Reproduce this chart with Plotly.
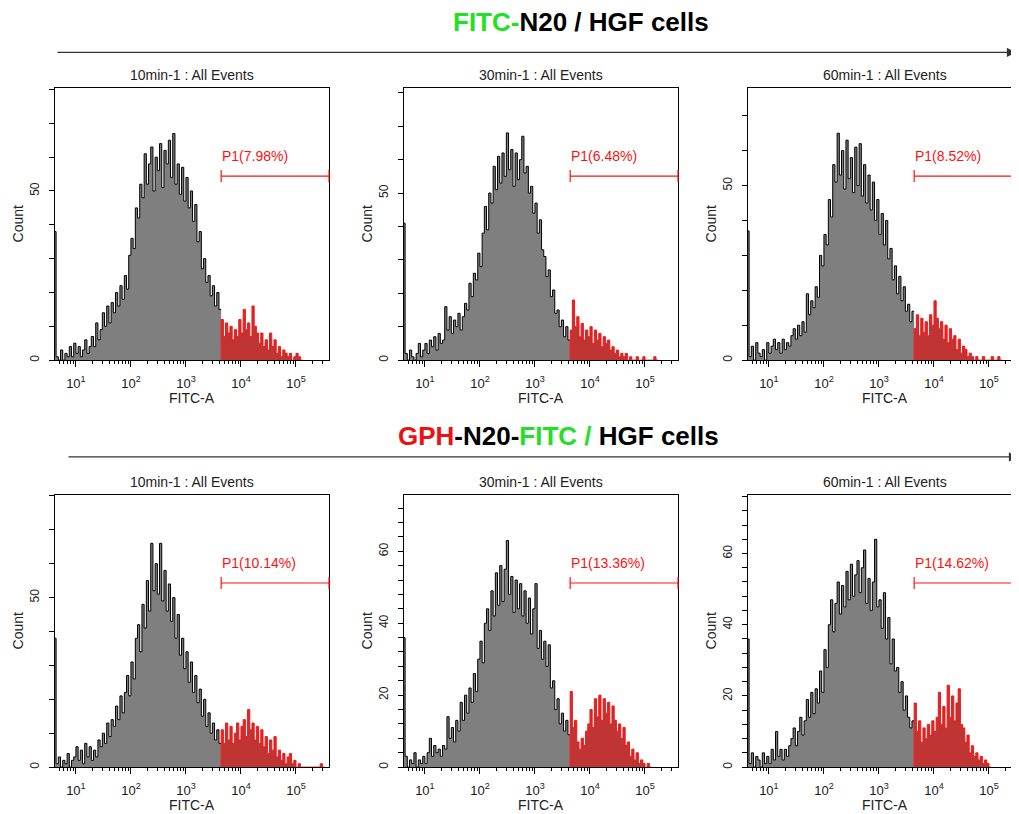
import plotly.graph_objects as go

W, H = 1019, 814
OFF = 8                       # page body margin of the browser
FW, FH = W - OFF, H - OFF     # figure size so that the figure fills the window

# ---------------- data ----------------
LOG_START = 0.60      # left edge of first histogram bin (log10 FITC-A)
BIN_W = 0.04          # bin width in decades
GATE_LOG = 3.64       # P1 gate start (log10 FITC-A); bins >= index 76 are gated
GATE_BIN = 76
X_LOG_MIN = 0.62

PANEL_TITLES = ["10min-1 : All Events", "30min-1 : All Events", "60min-1 : All Events",
                "10min-1 : All Events", "30min-1 : All Events", "60min-1 : All Events"]
GATE_LABELS = ["P1(7.98%)", "P1(6.48%)", "P1(8.52%)",
               "P1(10.14%)", "P1(13.36%)", "P1(14.62%)"]
Y_MAX = [80.5, 81.5, 78.0, 80.3, 75.7, 76.5]
Y_TICK_STEP = [10, 10, 10, 10, 4, 4]
Y_TICK_LABELED = [[0, 50], [0, 50], [0, 50], [0, 50], [0, 20, 40, 60], [0, 20, 40, 60]]
X_TICKS = [10, 100, 1000, 10000, 100000]
X_TICK_TEXT = ["10<sup>1</sup>", "10<sup>2</sup>", "10<sup>3</sup>", "10<sup>4</sup>", "10<sup>5</sup>"]
X_MINOR = [m * 10 ** e for e in range(0, 6) for m in range(2, 10) if 4.2 < m * 10 ** e < 4.2e5]

# FITC-N20 / HGF cells
counts_10min_n20 = [38, 1, 0, 3, 0, 2, 1, 4, 1, 5, 2, 4, 1, 3, 6, 2, 4,
                    7, 4, 11, 6, 9, 14, 10, 16, 11, 17, 14, 20, 16, 22, 18,
                    25, 21, 31, 36, 33, 45, 42, 52, 48, 61, 52, 58, 63, 50,
                    60, 56, 64, 51, 62, 58, 65, 54, 67, 52, 58, 49, 57, 47, 54,
                    45, 50, 41, 46, 35, 38, 27, 30, 23, 25, 19, 22, 16, 20, 15,
                    12, 7, 11, 8, 10, 6, 9, 7, 12, 8, 15, 9, 11, 7, 16, 10, 8,
                    5, 8, 4, 6, 3, 8, 4, 6, 2, 4, 1, 3, 2, 1, 2, 0, 1, 2, 1, 0]
counts_30min_n20 = [41, 2, 0, 3, 1, 0, 2, 5, 1, 3, 5, 2, 6, 4, 7, 3, 8, 5, 6, 16,
                    9, 13, 8, 12, 10, 14, 9, 13, 17, 15, 23, 19, 26, 24, 32, 28, 38,
                    46, 39, 50, 47, 58, 51, 61, 53, 62, 55, 68, 57, 63, 52, 62,
                    54, 60, 67, 56, 58, 50, 52, 44, 47, 38, 42, 33, 31, 25, 27,
                    19, 21, 14, 15, 10, 12, 7, 10, 6,
                    9, 18, 10, 13, 7, 11, 6, 9, 7, 10, 5, 9, 6, 8, 4, 7, 5, 6, 3,
                    4, 2, 3, 1, 2, 1, 2, 0, 1, 0, 0, 1, 0, 0, 1, 0, 0, 0, 0, 1, 0]
counts_60min_n20 = [37, 1, 4, 0, 5, 2, 1, 3, 0, 5, 2, 4, 6, 3, 5, 2, 6, 3, 5, 4, 7,
                    9, 6, 10, 7, 11, 8, 19, 13, 17, 15, 21, 18, 30, 27, 36, 33,
                    46, 41, 56, 51, 65, 53, 60, 49, 63, 52, 58, 48, 61, 50, 62,
                    47, 56, 45, 53, 43, 51, 40, 46, 36, 42, 33, 40, 29, 32, 23,
                    27, 19, 24, 17, 21, 14, 16, 11, 14,
                    9, 13, 7, 12, 8, 11, 7, 13, 10, 17, 12, 9, 11, 6, 10, 5, 9, 6,
                    7, 3, 6, 2, 4, 3, 1, 2, 1, 0, 1, 0, 0, 1, 0, 0, 0, 1, 0, 0, 1, 0]
# GPH-N20-FITC / HGF cells
counts_10min_gph = [38, 1, 3, 0, 2, 1, 4, 0, 2, 3, 6, 2, 5, 1, 7, 3, 6, 2,
                    5, 3, 8, 6, 10, 7, 13, 9, 14, 12, 18, 14, 21, 16, 22, 27, 21, 31,
                    26, 38, 42, 34, 48, 41, 55, 46, 66, 52, 60, 51, 66, 49, 58,
                    46, 54, 43, 50, 38, 45, 33, 38, 29, 34, 25, 31, 22, 27, 19,
                    23, 15, 20, 12, 16, 10, 13, 8, 11, 7,
                    11, 7, 13, 8, 12, 7, 10, 13, 8, 12, 14, 9, 17, 11, 13, 8, 12,
                    7, 11, 6, 9, 4, 8, 5, 9, 3, 5, 2, 4, 1, 3, 4, 1, 2,
                    0, 1, 0, 0, 0, 0, 0, 0, 0, 0, 0, 1, 0]
counts_30min_gph = [36, 3, 0, 2, 1, 4, 0, 2, 1, 3, 1, 4, 8, 3, 6, 4, 5, 3, 6, 5, 14,
                    8, 11, 7, 13, 10, 18, 13, 20, 15, 22, 18, 26, 21, 30, 35,
                    29, 40, 44, 38, 49, 42, 54, 45, 56, 46, 55, 63, 48, 53, 43,
                    52, 44, 51, 42, 49, 40, 47, 37, 44, 51, 33, 38, 30, 35, 28,
                    34, 22, 24, 16, 19, 12, 15, 10, 13, 9,
                    21, 11, 13, 7, 5, 8, 6, 10, 12, 16, 11, 19, 14, 20, 13, 19,
                    15, 18, 12, 17, 13, 10, 12, 8, 11, 6, 7, 3, 5, 2, 4, 1, 2, 1,
                    0, 1, 0]
counts_60min_gph = [36, 1, 4, 0, 3, 2, 0, 4, 1, 3, 1, 5, 2, 10, 3, 5, 2, 5, 3, 6,
                    8, 11, 6, 10, 14, 9, 13, 19, 14, 21, 15, 22, 18, 27, 21,
                    33, 28, 40, 47, 38, 46, 52, 43, 51, 45, 55, 47, 57, 48, 54,
                    58, 49, 56, 61, 46, 53, 44, 52, 64, 45, 47, 39, 49, 36, 42,
                    29, 36, 27, 28, 21, 24, 16, 20, 14, 11, 13,
                    18, 10, 13, 7, 11, 8, 12, 9, 13, 10, 14, 21, 12, 17, 11, 23,
                    14, 20, 13, 18, 22, 12, 11, 7, 9, 4, 6, 3, 4, 2, 3, 1, 2, 1, 0]

PANEL_COUNTS = [counts_10min_n20, counts_30min_n20, counts_60min_n20,
                counts_10min_gph, counts_30min_gph, counts_60min_gph]

# ---------------- layout geometry (window pixels) ----------------
COL_LEFT = [55, 404, 748]
COL_W = [274, 274, 271]
COL_CENTER = [192, 541, 885]
ROW_TOP = [88, 496]
PH = 273
DEC_PX = 55.02
FONT = "Liberation Sans"

GRAY_FILL = "#7f7f7f"
RED_LINE = "#ff1010"
RED_FILL = "rgb(192,52,52)"


def px(xp):
    return (xp - OFF) / FW


def py(yp):
    return 1 - (yp - OFF) / FH


def hist_xy(counts, i0, i1, start_zero):
    xs = [10 ** (LOG_START + BIN_W * k) for k in range(i0, i1 + 1)]
    ys = list(counts[i0:i1]) + [counts[i1 - 1]]
    if start_zero:
        xs = [xs[0]] + xs
        ys = [0] + ys
    return xs, ys


fig = go.Figure()
layout = {}
annotations = []
shapes = []

for idx in range(6):
    r, c = divmod(idx, 3)
    n = idx + 1
    xid = "x" if n == 1 else f"x{n}"
    yid = "y" if n == 1 else f"y{n}"
    xname = "xaxis" if n == 1 else f"xaxis{n}"
    yname = "yaxis" if n == 1 else f"yaxis{n}"
    left, width, top = COL_LEFT[c], COL_W[c], ROW_TOP[r]
    xspan = width / DEC_PX

    counts = PANEL_COUNTS[idx]
    gx, gy = hist_xy(counts, 0, GATE_BIN, False)
    fig.add_trace(go.Scatter(x=gx, y=gy, mode="lines", line=dict(shape="hv", color="black", width=1),
                             fill="tozeroy", fillcolor=GRAY_FILL, xaxis=xid, yaxis=yid,
                             hoverinfo="skip", showlegend=False))
    rx, ry = hist_xy(counts, GATE_BIN, len(counts), True)
    fig.add_trace(go.Scatter(x=rx, y=ry, mode="lines", line=dict(shape="hv", color=RED_LINE, width=1),
                             fill="tozeroy", fillcolor=RED_FILL, xaxis=xid, yaxis=yid,
                             hoverinfo="skip", showlegend=False))

    ytv = list(range(0, int(Y_MAX[idx]) + 1, Y_TICK_STEP[idx]))
    ytt = [str(v) if v in Y_TICK_LABELED[idx] else "" for v in ytv]

    layout[xname] = dict(domain=[px(left), min(1.0, px(left + width))], anchor=yid, type="log",
                         range=[X_LOG_MIN, X_LOG_MIN + xspan], showline=True, linecolor="black",
                         linewidth=1, mirror=True, ticks="outside", ticklen=6, tickwidth=1,
                         tickcolor="black", tickvals=X_TICKS, ticktext=X_TICK_TEXT,
                         ticklabelstandoff=5,
                         tickfont=dict(family=FONT, size=13, color="#1a1a1a"),
                         minor=dict(tickvals=X_MINOR, ticks="outside", ticklen=3, tickwidth=1,
                                    tickcolor="black", showgrid=False),
                         showgrid=False, zeroline=False, fixedrange=True)
    layout[yname] = dict(domain=[py(top + PH), py(top)], anchor=xid,
                         range=[0, Y_MAX[idx]], showline=True, linecolor="black", linewidth=1,
                         mirror=(c < 2), ticks="outside", ticklen=5, tickwidth=1, tickcolor="black",
                         tickvals=ytv, ticktext=ytt, tickangle=-90, ticklabelstandoff=5,
                         tickfont=dict(family=FONT, size=12, color="#1a1a1a"),
                         showgrid=False, zeroline=False, fixedrange=True)

    # gate bar
    gfrac = (GATE_LOG - X_LOG_MIN) / xspan
    bar_y = 0.676
    xdref = f"{xid} domain"
    ydref = f"{yid} domain"
    shapes.append(dict(type="line", xref=xdref, yref=ydref, x0=gfrac, x1=1.0, y0=bar_y, y1=bar_y,
                       line=dict(color=RED_LINE, width=1.2)))
    shapes.append(dict(type="line", xref=xdref, yref=ydref, x0=gfrac, x1=gfrac,
                       y0=bar_y - 0.022, y1=bar_y + 0.022, line=dict(color=RED_LINE, width=1.2)))
    if c < 2:
        shapes.append(dict(type="line", xref=xdref, yref=ydref, x0=1.0, x1=1.0,
                           y0=bar_y - 0.022, y1=bar_y + 0.022, line=dict(color=RED_LINE, width=1.2)))
    annotations.append(dict(xref=xdref, yref=ydref, x=gfrac - 0.006, y=0.751, xanchor="left",
                            yanchor="middle", text=GATE_LABELS[idx], showarrow=False,
                            font=dict(family=FONT, size=14, color=RED_LINE)))

    # panel title, axis titles
    annotations.append(dict(xref="paper", yref="paper", x=px(COL_CENTER[c]), y=py(top - 13),
                            text=PANEL_TITLES[idx], showarrow=False, xanchor="center", yanchor="middle",
                            font=dict(family=FONT, size=14, color="#222222")))
    annotations.append(dict(xref="paper", yref="paper", x=px(COL_CENTER[c]), y=py(top + PH + 38),
                            text="FITC-A", showarrow=False, xanchor="center", yanchor="middle",
                            font=dict(family=FONT, size=14, color="#222222")))
    annotations.append(dict(xref="paper", yref="paper", x=px(left - 37), y=py(top + 137),
                            text="Count", textangle=-90, showarrow=False, xanchor="center",
                            yanchor="middle", font=dict(family=FONT, size=14, color="#222222")))

# group titles
annotations.append(dict(xref="paper", yref="paper", x=px(581), y=py(22), showarrow=False,
                        xanchor="center", yanchor="middle",
                        text="<b><span style='color:#22e022'>FITC-</span>N20 / HGF cells</b>",
                        font=dict(family=FONT, size=26, color="black")))
annotations.append(dict(xref="paper", yref="paper", x=px(558), y=py(437), showarrow=False,
                        xanchor="center", yanchor="middle",
                        text="<b><span style='color:#ee1111'>GPH</span>-N20-"
                             "<span style='color:#22e022'>FITC /</span> HGF cells</b>",
                        font=dict(family=FONT, size=26, color="black")))
# time arrows
annotations.append(dict(xref="paper", yref="paper", x=px(1016), y=py(52.5), text="",
                        showarrow=True, ax=56 - 1016, ay=0, arrowhead=2, arrowsize=1.4,
                        arrowwidth=1.3, arrowcolor="#333333"))
annotations.append(dict(xref="paper", yref="paper", x=px(1025), y=py(458), text="",
                        showarrow=True, ax=67 - 1025, ay=0, arrowhead=2, arrowsize=1.4,
                        arrowwidth=1.3, arrowcolor="#333333"))

fig.update_layout(width=FW, height=FH, margin=dict(l=0, r=0, t=0, b=0),
                  paper_bgcolor="white", plot_bgcolor="white", showlegend=False,
                  annotations=annotations, shapes=shapes, **layout)

fig.write_html("out.html")
